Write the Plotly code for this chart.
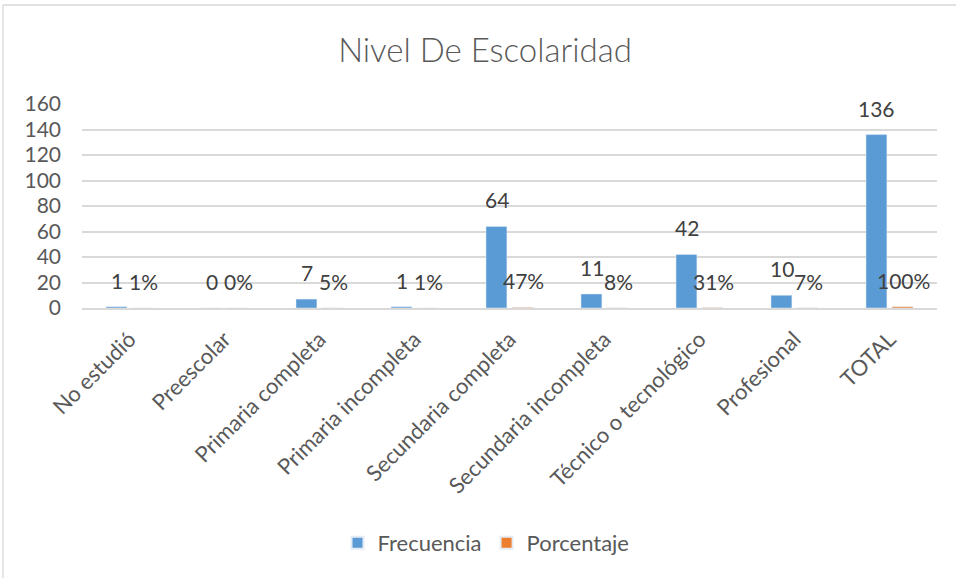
import plotly.graph_objects as go

categories = ["No estudió", "Preescolar", "Primaria completa", "Primaria incompleta",
              "Secundaria completa", "Secundaria incompleta", "Técnico o tecnológico",
              "Profesional", "TOTAL"]
frecuencia = [1, 0, 7, 1, 64, 11, 42, 10, 136]
porcentaje = [0.01, 0.00, 0.05, 0.01, 0.47, 0.08, 0.31, 0.07, 1.00]
y_ticks = [0, 20, 40, 60, 80, 100, 120, 140, 160]

W, H = 956, 578
L, R, T, B = 82, 19, 104, 270
pw, ph = W - L - R, H - T - B

FONT = "Lato"
TXT = "#595959"
GRID = "#D9D9D9"

fig = go.Figure()
fig.add_trace(go.Bar(name="Frecuencia", x=categories, y=frecuencia,
                     marker_color="#5B9BD5", hoverinfo="skip"))
fig.add_trace(go.Bar(name="Porcentaje", x=categories, y=porcentaje,
                     marker_color="#ED7D31", hoverinfo="skip"))

annotations = []
for c, f, p in zip(categories, frecuencia, porcentaje):
    annotations.append(dict(x=c, y=f, xref="x", yref="y", text=str(f), showarrow=False,
                            xshift=-13, yshift=12, yanchor="bottom",
                            font=dict(family=FONT, size=21, color="#404040")))
    annotations.append(dict(x=c, y=p, xref="x", yref="y", text=f"{round(p*100)}%", showarrow=False,
                            xshift=14, yshift=12, yanchor="bottom",
                            font=dict(family=FONT, size=21, color="#404040")))

def px_x(x):
    return (x - L) / pw

def px_y(y):
    return (H - B - y) / ph

shapes = [
    dict(type="line", xref="paper", yref="paper", x0=px_x(3), x1=px_x(960), y0=px_y(5), y1=px_y(5),
         line=dict(color=GRID, width=1.3)),
    dict(type="line", xref="paper", yref="paper", x0=px_x(3), x1=px_x(3), y0=px_y(5), y1=px_y(580),
         line=dict(color=GRID, width=1.3)),
]

fig.update_layout(
    width=W, height=H,
    margin=dict(l=L, r=R, t=T, b=B, autoexpand=False),
    paper_bgcolor="white", plot_bgcolor="white",
    barmode="group", bargap=0.45, bargroupgap=0.2,
    title=dict(text="Nivel De Escolaridad", x=485 / W, xref="container", xanchor="center",
               y=1 - 50 / H, yref="container", yanchor="middle",
               font=dict(family=FONT, size=33, color=TXT, weight=300)),
    font=dict(family=FONT, size=21, color=TXT),
    showlegend=True,
    legend=dict(orientation="h", x=px_x(486), y=px_y(543), xanchor="center", yanchor="middle",
                font=dict(family=FONT, size=22, color=TXT), itemsizing="constant",
                traceorder="normal", itemwidth=30),
    annotations=annotations,
    shapes=shapes,
)
fig.update_xaxes(tickangle=-45, showline=True, linecolor=GRID, linewidth=1.5,
                 showgrid=False, ticks="", ticklabelstandoff=8,
                 tickfont=dict(family=FONT, size=22, color=TXT))
fig.update_yaxes(range=[0, 160], tickvals=y_ticks, showgrid=True, gridcolor=GRID, gridwidth=1.5,
                 zeroline=False, showline=False, ticks="", ticklabelstandoff=20,
                 tickfont=dict(family=FONT, size=21, color=TXT))

fig.write_html("out.html", config={"displayModeBar": False},
               post_script="document.body.style.margin='0';document.body.style.overflow='hidden';")
